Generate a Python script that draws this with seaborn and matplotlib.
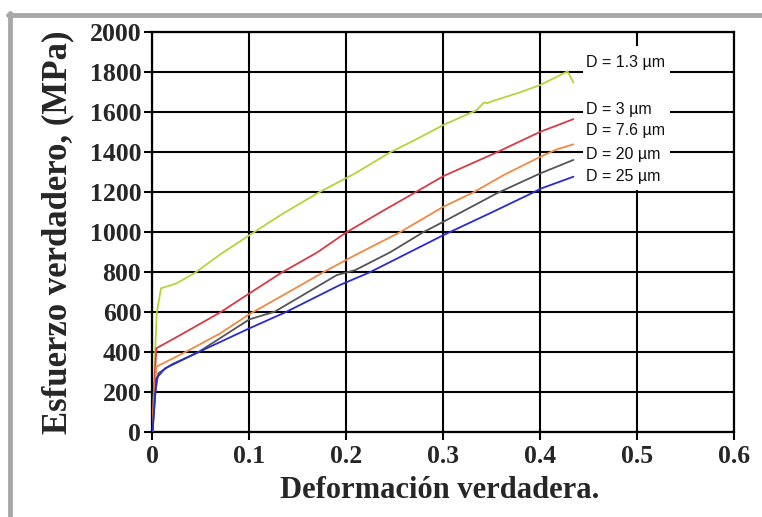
import matplotlib
matplotlib.use("Agg")
import matplotlib.pyplot as plt
from matplotlib.patches import Rectangle
from matplotlib.lines import Line2D
import seaborn as sns
import pandas as pd

# ---- data ----
labels = ["D = 1.3 µm", "D = 3 µm", "D = 7.6 µm", "D = 20 µm", "D = 25 µm"]

x_13 = [0, 0.002, 0.0043, 0.0088, 0.025, 0.044, 0.07, 0.1, 0.135, 0.171, 0.209, 0.245, 0.27, 0.3,
        0.334, 0.342, 0.345, 0.35, 0.379, 0.4, 0.424, 0.428, 0.434]
y_13 = [0, 300, 595, 720, 745, 798, 890, 986, 1095, 1198, 1295, 1400, 1460, 1537,
        1610, 1650, 1645, 1655, 1700, 1737, 1795, 1805, 1748]

x_3 = [0, 0.002, 0.004, 0.03, 0.07, 0.1, 0.133, 0.17, 0.2, 0.235, 0.271, 0.3, 0.355, 0.4, 0.434]
y_3 = [0, 250, 420, 490, 600, 695, 798, 900, 1000, 1100, 1200, 1281, 1400, 1503, 1566]

x_76 = [0, 0.002, 0.004, 0.0335, 0.07, 0.1, 0.14, 0.176, 0.209, 0.255, 0.3, 0.331, 0.362, 0.4, 0.417, 0.434]
y_76 = [0, 200, 328, 400, 495, 591, 700, 800, 886, 1000, 1128, 1200, 1286, 1378, 1415, 1440]

x_20 = [0, 0.003, 0.006, 0.02, 0.047, 0.1, 0.126, 0.19, 0.209, 0.245, 0.279, 0.3, 0.355, 0.4, 0.434]
y_20 = [0, 200, 295, 340, 400, 565, 603, 786, 811, 900, 1000, 1053, 1195, 1295, 1362]

x_25 = [0, 0.003, 0.004, 0.013, 0.047, 0.1, 0.137, 0.193, 0.224, 0.3, 0.35, 0.393, 0.4, 0.434]
y_25 = [0, 200, 270, 320, 400, 520, 600, 736, 800, 986, 1100, 1200, 1218, 1278]

label_y = [1848, 1616, 1508, 1391, 1281]
x_ticks = [0, 0.1, 0.2, 0.3, 0.4, 0.5, 0.6]
x_ticklabels = ["0", "0.1", "0.2", "0.3", "0.4", "0.5", "0.6"]
y_ticks = [0, 200, 400, 600, 800, 1000, 1200, 1400, 1600, 1800, 2000]

colors = ["#b9d23c", "#d93a46", "#f08a42", "#555555", "#2a2ad0"]

series = [(x_13, y_13), (x_3, y_3), (x_76, y_76), (x_20, y_20), (x_25, y_25)]
frames = []
for lab, (xs, ys) in zip(labels, series):
    frames.append(pd.DataFrame({"strain": xs, "stress": ys, "D": lab}))
df = pd.concat(frames, ignore_index=True)

sns.set_style("white")
plt.rcParams["font.family"] = ["Liberation Serif", "DejaVu Serif"]

fig = plt.figure(figsize=(7.62, 5.17), dpi=100)
ax = fig.add_axes([0.2001, 0.1638, 0.7637, 0.7737])

sns.lineplot(data=df, x="strain", y="stress", hue="D", palette=dict(zip(labels, colors)),
             sort=False, estimator=None, units="D", legend=False, linewidth=1.3, ax=ax, zorder=3)

ax.set_xlim(0, 0.6)
ax.set_ylim(0, 2000)
ax.set_xticks(x_ticks)
ax.set_xticklabels(x_ticklabels)
ax.set_yticks(y_ticks)
ax.grid(True, color="black", linewidth=1.5)
ax.set_axisbelow(True)
for s in ax.spines.values():
    s.set_color("black")
    s.set_linewidth(1.6)

ax.tick_params(axis="both", which="major", direction="out", length=6, width=1.5, color="black",
               labelsize=18.5, bottom=True, left=True)
ax.tick_params(axis="y", pad=2)
ax.tick_params(axis="x", pad=3)
for t in ax.get_xticklabels() + ax.get_yticklabels():
    t.set_fontweight("bold")

ax.set_xlabel("Deformación verdadera.", fontsize=22, fontweight="bold")
ax.set_ylabel("Esfuerzo verdadero, (MPa)", fontsize=25, fontweight="bold")
ax.xaxis.set_label_coords(0.494, -0.11)
ax.yaxis.set_label_coords(-0.135, 0.5)

# white box behind the labels, hiding the grid
ax.add_patch(Rectangle((0.4435, 1210), 0.09, 720, facecolor="white", edgecolor="none", zorder=2))
for lab, yy in zip(labels, label_y):
    ax.text(0.447, yy, lab, fontsize=11.5, family=["Liberation Sans", "DejaVu Sans"],
            ha="left", va="center", zorder=4, color="#111111")

# light grey frame around the figure
fig.add_artist(Line2D([8 / 762, 1.0], [1 - 15 / 517, 1 - 15 / 517], color="#a8a8a8", linewidth=3.5,
                      transform=fig.transFigure))
fig.add_artist(Line2D([10 / 762, 10 / 762], [0, 1 - 13 / 517], color="#a8a8a8", linewidth=3.5,
                      transform=fig.transFigure))

fig.savefig("out.png", dpi=100)
